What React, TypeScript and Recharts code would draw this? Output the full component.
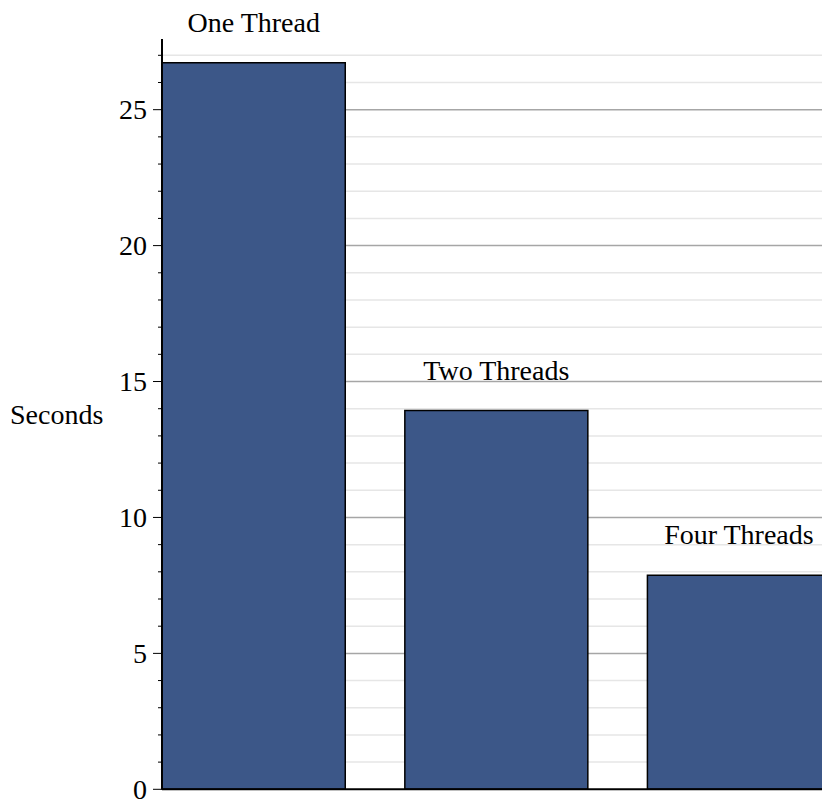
import React from 'react';
import { BarChart, Bar, XAxis, YAxis, CartesianGrid, LabelList } from 'recharts';

const categories = ['One Thread', 'Two Threads', 'Four Threads'];
const seconds = [26.73, 13.93, 7.87];
const yTicks = [0, 1, 2, 3, 4, 5, 6, 7, 8, 9, 10, 11, 12, 13, 14, 15, 16, 17, 18, 19, 20, 21, 22, 23, 24, 25, 26, 27];
const majorLines = [5, 10, 15, 20, 25];
const minorLines = yTicks.filter((v) => v > 0 && v % 5 !== 0);

const data = categories.map((name, i) => ({ name, seconds: seconds[i] }));

const FONT = '"Liberation Serif", "Times New Roman", serif';
const FONT_SIZE = 28;

function YTick(props: any) {
  const { x, y, payload } = props;
  const v = payload.value;
  const major = v % 5 === 0;
  return (
    <g>
      <line x1={x} x2={x - (major ? 9 : 4)} y1={y} y2={y} stroke="#000" strokeWidth={1} />
      {major && (
        <text x={x - 15} y={y} dy="0.35em" textAnchor="end" fontSize={FONT_SIZE} fontFamily={FONT} fill="#000">
          {v}
        </text>
      )}
    </g>
  );
}

function TopLabel(props: any) {
  const { x, y, width, value } = props;
  return (
    <text x={x + width / 2} y={y - 31} textAnchor="middle" fontSize={FONT_SIZE} fontFamily={FONT} fill="#000">
      {value}
    </text>
  );
}

export default function App() {
  return (
    <div style={{ position: 'absolute', left: 8, top: 8, width: 852, height: 800 }}>
      <BarChart
        width={852}
        height={800}
        data={data}
        margin={{ top: 31, right: 0, bottom: 17.7, left: 0 }}
        barSize={183}
      >
        <CartesianGrid vertical={false} horizontalValues={minorLines} stroke="#e6e6e6" strokeWidth={1.5} />
        <CartesianGrid vertical={false} horizontalValues={majorLines} stroke="#a6a6a6" strokeWidth={1.5} />
        <XAxis
          dataKey="name"
          height={1}
          tick={false}
          tickLine={false}
          axisLine={{ stroke: '#000', strokeWidth: 2 }}
          padding={{ left: -29.75, right: 0 }}
        />
        <YAxis
          width={154}
          domain={[0, 27.6]}
          ticks={yTicks}
          interval={0}
          tickSize={0}
          tickMargin={0}
          tickLine={false}
          tick={<YTick />}
          axisLine={{ stroke: '#000', strokeWidth: 2 }}
          label={{ value: 'Seconds', position: 'insideLeft', offset: 2, fontSize: FONT_SIZE, fontFamily: FONT, fill: '#000' }}
        />
        <Bar dataKey="seconds" fill="#3c5788" stroke="#000" strokeWidth={1.5} isAnimationActive={false}>
          <LabelList dataKey="name" content={<TopLabel />} />
        </Bar>
      </BarChart>
    </div>
  );
}
